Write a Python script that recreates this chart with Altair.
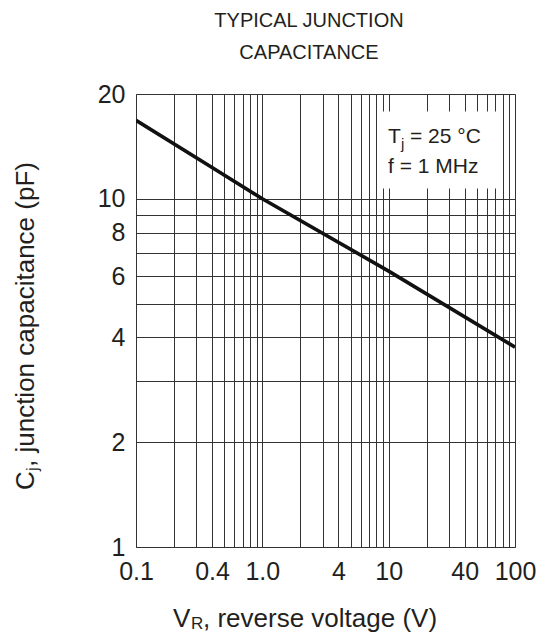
import altair as alt
import pandas as pd

# ---- data ----
voltage = [0.1, 0.4, 1.0, 10.0, 100.0]
capacitance = [16.8, 12.3, 10.0, 6.2, 3.75]

x_grid = [0.1, 0.2, 0.3, 0.4, 0.5, 0.6, 0.7, 0.8, 0.9,
          1, 2, 3, 4, 5, 6, 7, 8, 9,
          10, 20, 30, 40, 50, 60, 70, 80, 90, 100]
x_label_vals = [0.1, 0.4, 1, 4, 10, 40, 100]
x_label_text = ["0.1", "0.4", "1.0", "4", "10", "40", "100"]
y_grid = [1, 2, 3, 4, 5, 6, 7, 8, 9, 10, 20]
y_label_vals = [1, 2, 4, 6, 8, 10, 20]

box_x = [8.5, 75]
box_y = [10.7, 17.8]

FONT = "Liberation Sans"
TXT = "#231f20"
GRID = "#333333"

x_expr = " : ".join(
    f"datum.value == {v} ? '{t}'" for v, t in zip(x_label_vals, x_label_text)
) + " : ''"
y_expr = (
    "indexof([" + ",".join(str(v) for v in y_label_vals) + "], datum.value) >= 0 ? '' + datum.value : ''"
)

xscale = alt.Scale(type="log", domain=[0.1, 100], nice=False)
yscale = alt.Scale(type="log", domain=[1, 20], nice=False)

xaxis = alt.Axis(values=x_grid, labelExpr=x_expr, grid=True, gridColor=GRID, gridWidth=1,
                 gridOpacity=1, ticks=False, domain=True, domainColor=GRID, domainWidth=1,
                 labelFontSize=25, labelFont=FONT, labelColor=TXT, labelPadding=12,
                 labelOverlap=False, labelFlush=False, labelBound=False, title=None)
yaxis = alt.Axis(values=y_grid, labelExpr=y_expr, grid=True, gridColor=GRID, gridWidth=1,
                 gridOpacity=1, ticks=False, domain=True, domainColor=GRID, domainWidth=1,
                 labelFontSize=25, labelFont=FONT, labelColor=TXT, labelPadding=11,
                 labelOverlap=False, labelFlush=False, labelBound=False, title=None)

df = pd.DataFrame({"V": voltage, "C": capacitance})

line = alt.Chart(df).mark_line(color="#111111", strokeWidth=3.6, clip=True).encode(
    x=alt.X("V:Q", scale=xscale, axis=xaxis),
    y=alt.Y("C:Q", scale=yscale, axis=yaxis),
)

box_df = pd.DataFrame({"x": [box_x[0]], "x2": [box_x[1]], "y": [box_y[0]], "y2": [box_y[1]]})
box = alt.Chart(box_df).mark_rect(color="white", opacity=1).encode(
    x="x:Q", x2="x2:Q", y="y:Q", y2="y2:Q"
)

one = pd.DataFrame({"a": [0]})


def txt(text, x, y, size=23, align="left", angle=0, baseline="middle"):
    kw = dict(text=text, fontSize=size, font=FONT, color=TXT, align=align, baseline=baseline)
    if angle:
        kw["angle"] = angle
    return alt.Chart(one).mark_text(**kw).encode(x=alt.value(x), y=alt.value(y))


texts = [
    # header
    txt("TYPICAL JUNCTION", 173, -73, size=20, align="center"),
    txt("CAPACITANCE", 173, -41, size=20, align="center"),
    # box annotation
    txt("T", 252, 43, size=21),
    txt("j", 265, 50, size=15),
    txt("= 25 °C", 274, 43, size=21),
    txt("f = 1 MHz", 252, 73, size=21),
    # x title
    txt("V", 37, 525, size=26),
    txt("R", 55, 530, size=17),
    txt(", reverse voltage (V)", 67, 525, size=26),
    # y title (rotated)
    txt("C", -110, 396, size=26, angle=270),
    txt("j", -103, 377, size=17, angle=270),
    txt(", junction capacitance (pF)", -110, 373, size=26, angle=270),
]

chart = alt.layer(line, box, *texts).properties(
    width=379, height=453,
    autosize=alt.AutoSizeParams(type="none"),
    padding={"left": 128, "top": 86, "right": 27, "bottom": 86},
).configure_view(strokeWidth=0).configure(background="white")

chart.save("out.html", embed_options={"renderer": "svg", "actions": False})
